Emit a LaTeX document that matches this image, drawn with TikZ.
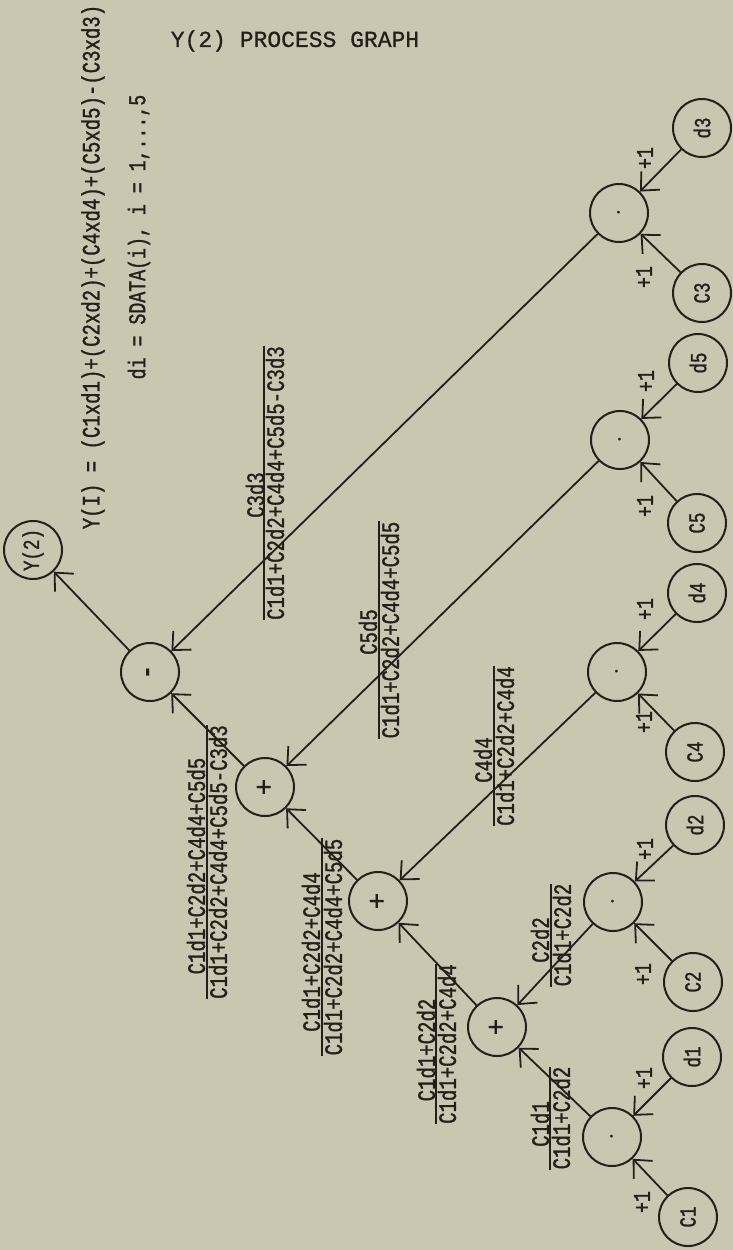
\documentclass[tikz,border=0pt]{standalone}
\usepackage{fontspec}
\usetikzlibrary{arrows.meta}
\newfontfamily\labfont[FakeStretch=0.76,FakeBold=1.2]{Liberation Mono}
\newfontfamily\titlefont[FakeBold=0.8]{Liberation Mono}
\definecolor{paper}{RGB}{203,198,176}
\definecolor{ink}{RGB}{38,30,28}
\tikzset{
  nd/.style={circle,draw=ink,line width=2pt,minimum size=58pt,inner sep=0pt,text=ink,
    font=\labfont\fontsize{23}{23}\selectfont,rotate=90},
  edge/.style={draw=ink,line width=1.8pt,-{Straight Barb[length=14pt,width=26pt]}},
  lab/.style={rotate=90,inner sep=0pt,text=ink,font=\labfont\fontsize{25}{25}\selectfont},
  den/.style={lab,inner ysep=1.5pt},
  one/.style={rotate=90,inner sep=0pt,text=ink,font=\labfont\fontsize{24}{24}\selectfont},
  bar/.style={draw=ink,line width=1.8pt},
  dotc/.style={font=\fontsize{10}{10}\selectfont},
}
\begin{document}
\begin{tikzpicture}[x=1pt,y=-1pt]
\fill[paper] (0,0) rectangle (733,1250);
\useasboundingbox (0,0) rectangle (733,1250);

% header texts
\node[text=ink,font=\titlefont\fontsize{23}{23}\selectfont] (title) at (295,41) {Y(2) PROCESS GRAPH};
\node[lab] (formula) at (93,267) {Y(I) = (C1xd1)+(C2xd2)+(C4xd4)+(C5xd5)-(C3xd3)};
\node[lab,font=\labfont\fontsize{24}{24}\selectfont] (defdi) at (139,237) {di = SDATA(i), i = 1,...,5};

% operation nodes
\node[nd] (Y2) at (33,550) {Y(2)};
\node[nd,font=\titlefont\bfseries\fontsize{24}{24}\selectfont] (mi) at (150,672) {-};
\node[nd,font=\titlefont\fontsize{28}{28}\selectfont] (p3) at (265,787) {+};
\node[nd,font=\titlefont\fontsize{28}{28}\selectfont] (p2) at (378,901) {+};
\node[nd,font=\titlefont\fontsize{28}{28}\selectfont] (p1) at (497,1027) {+};
\node[nd,dotc] (m3) at (619,213) {\textbullet};
\node[nd,dotc] (m5) at (620,440) {\textbullet};
\node[nd,dotc] (m4) at (617,672) {\textbullet};
\node[nd,dotc] (m2) at (613,902) {\textbullet};
\node[nd,dotc] (m1) at (612,1137) {\textbullet};

% leaves
\node[nd] (d3) at (702,128) {d3};
\node[nd] (c3) at (702,293) {C3};
\node[nd] (d5) at (698,363) {d5};
\node[nd] (c5) at (697,523) {C5};
\node[nd] (d4) at (697,593) {d4};
\node[nd] (c4) at (695,752) {C4};
\node[nd] (d2) at (695,825) {d2};
\node[nd] (c2) at (693,982) {C2};
\node[nd] (d1) at (692,1057) {d1};
\node[nd] (c1) at (688,1217) {C1};

% leaf edges
\draw[edge] (d3) -- (m3);
\draw[edge] (c3) -- (m3);
\draw[edge] (d5) -- (m5);
\draw[edge] (c5) -- (m5);
\draw[edge] (d4) -- (m4);
\draw[edge] (c4) -- (m4);
\draw[edge] (d2) -- (m2);
\draw[edge] (c2) -- (m2);
\draw[edge] (d1) -- (m1);
\draw[edge] (c1) -- (m1);

% +1 labels
\node[one] (w3a) at (645,158) {+1};
\node[one] (w3b) at (644,277) {+1};
\node[one] (w5a) at (646,381) {+1};
\node[one] (w5b) at (645,506) {+1};
\node[one] (w4a) at (645,609) {+1};
\node[one] (w4b) at (644,722) {+1};
\node[one] (w2a) at (645,849) {+1};
\node[one] (w2b) at (643,974) {+1};
\node[one] (w1a) at (644,1078) {+1};
\node[one] (w1b) at (642,1202) {+1};

% internal edges
\draw[edge] (m1) -- (p1);
\draw[edge] (m2) -- (p1);
\draw[edge] (p1) -- (p2);
\draw[edge] (m4) -- (p2);
\draw[edge] (p2) -- (p3);
\draw[edge] (m5) -- (p3);
\draw[edge] (p3) -- (mi);
\draw[edge] (m3) -- (mi);
\draw[edge] (mi) -- (Y2);

% fraction labels
\node[lab] (n1) at (540,1124) {C1d1};
\node[den] (q1) at (561,1118) {C1d1+C2d2};
\draw[bar] (q1.north west) -- (q1.north east);

\node[lab] (n2) at (540,940) {C2d2};
\node[den] (q2) at (562,935) {C1d1+C2d2};
\draw[bar] (q2.north west) -- (q2.north east);

\node[lab] (n3) at (426,1050) {C1d1+C2d2};
\node[den] (q3) at (447,1044) {C1d1+C2d2+C4d4};
\draw[bar] (q3.north west) -- (q3.north east);

\node[lab] (n4) at (483,760) {C4d4};
\node[den] (q4) at (505,746) {C1d1+C2d2+C4d4};
\draw[bar] (q4.north west) -- (q4.north east);

\node[lab] (n5) at (311,952) {C1d1+C2d2+C4d4};
\node[den] (q5) at (333,947) {C1d1+C2d2+C4d4+C5d5};
\draw[bar] (q5.north west) -- (q5.north east);

\node[lab] (n6) at (368,632) {C5d5};
\node[den] (q6) at (390,630) {C1d1+C2d2+C4d4+C5d5};
\draw[bar] (q6.north west) -- (q6.north east);

\node[lab] (n7) at (196,866) {C1d1+C2d2+C4d4+C5d5};
\node[den] (q7) at (218,862) {C1d1+C2d2+C4d4+C5d5-C3d3};
\draw[bar] (q7.north west) -- (q7.north east);

\node[lab] (n8) at (255,495) {C3d3};
\node[den] (q8) at (275,483) {C1d1+C2d2+C4d4+C5d5-C3d3};
\draw[bar] (q8.north west) -- (q8.north east);
\end{tikzpicture}
\end{document}
